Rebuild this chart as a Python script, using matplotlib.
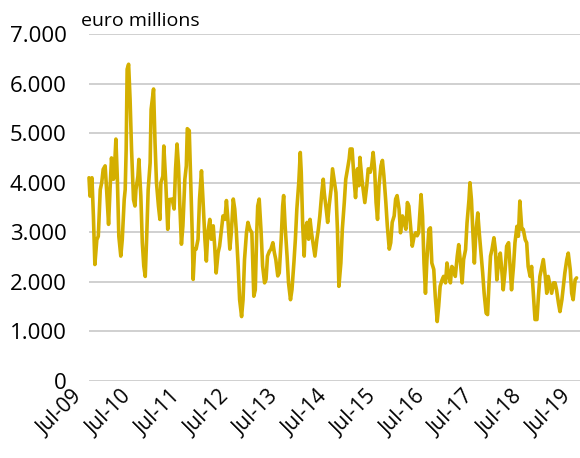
import matplotlib.pyplot as plt
from matplotlib.ticker import FuncFormatter
from matplotlib.transforms import ScaledTranslation

# daily series (decimal years, euro millions)
dates = [
    2009.50, 2009.52, 2009.56, 2009.59, 2009.62, 2009.66, 2009.69, 2009.73, 2009.76, 2009.79,
    2009.83, 2009.86, 2009.90, 2009.93, 2009.96, 2010.00, 2010.03, 2010.05, 2010.08, 2010.11,
    2010.15, 2010.18, 2010.22, 2010.24, 2010.26, 2010.28, 2010.31, 2010.34, 2010.37, 2010.41,
    2010.44, 2010.46, 2010.50, 2010.52, 2010.56, 2010.59, 2010.62, 2010.65, 2010.68, 2010.71,
    2010.75, 2010.77, 2010.82, 2010.85, 2010.88, 2010.92, 2010.95, 2010.97, 2011.01, 2011.03,
    2011.07, 2011.11, 2011.14,
    2011.20, 2011.24, 2011.27, 2011.30, 2011.33, 2011.36, 2011.39, 2011.42, 2011.46, 2011.49,
    2011.51, 2011.55, 2011.58, 2011.61, 2011.63, 2011.66, 2011.69, 2011.73, 2011.76, 2011.80,
    2011.83, 2011.87, 2011.90, 2011.93, 2011.97, 2012.00, 2012.04, 2012.07, 2012.10, 2012.14,
    2012.17, 2012.21, 2012.24, 2012.28, 2012.31, 2012.34, 2012.38, 2012.41, 2012.45, 2012.48,
    2012.51, 2012.55, 2012.58, 2012.62, 2012.65, 2012.68, 2012.72, 2012.75, 2012.79,
    2012.83, 2012.87, 2012.90, 2012.93, 2012.95, 2012.98, 2013.02, 2013.05, 2013.09, 2013.12,
    2013.15, 2013.19, 2013.22, 2013.26, 2013.29, 2013.32, 2013.36, 2013.39, 2013.43, 2013.46,
    2013.48, 2013.51, 2013.55, 2013.58, 2013.62, 2013.65, 2013.69, 2013.72, 2013.75, 2013.79,
    2013.82, 2013.84, 2013.87, 2013.90, 2013.92, 2013.96, 2013.99, 2014.02, 2014.05, 2014.09,
    2014.12, 2014.16, 2014.19, 2014.22, 2014.26, 2014.29, 2014.31, 2014.35, 2014.38, 2014.41,
    2014.45, 2014.48,
    2014.55, 2014.58, 2014.61, 2014.65, 2014.68, 2014.72, 2014.75, 2014.78, 2014.82, 2014.84,
    2014.88, 2014.92, 2014.95, 2014.99, 2015.02, 2015.04, 2015.08, 2015.11, 2015.14, 2015.18,
    2015.21, 2015.25, 2015.28, 2015.31, 2015.34, 2015.37, 2015.40, 2015.43, 2015.47, 2015.50,
    2015.53, 2015.57, 2015.60, 2015.64, 2015.67, 2015.70, 2015.74, 2015.77, 2015.80, 2015.84,
    2015.87, 2015.91, 2015.94, 2015.98, 2016.01, 2016.04, 2016.08, 2016.11, 2016.15, 2016.18,
    2016.21,
    2016.24, 2016.29, 2016.32, 2016.35, 2016.38, 2016.41, 2016.45, 2016.48, 2016.51, 2016.55,
    2016.58, 2016.62, 2016.65, 2016.68, 2016.72, 2016.75, 2016.79, 2016.82, 2016.86, 2016.89,
    2016.92, 2016.96, 2016.99, 2017.03, 2017.06, 2017.09, 2017.13, 2017.16, 2017.20, 2017.23,
    2017.27, 2017.29, 2017.32, 2017.35, 2017.38, 2017.41, 2017.45, 2017.48, 2017.52, 2017.55,
    2017.58, 2017.62, 2017.65, 2017.68, 2017.71, 2017.74, 2017.78, 2017.81, 2017.84, 2017.88,
    2017.91, 2017.94, 2017.97, 2018.01, 2018.04, 2018.08, 2018.11, 2018.14, 2018.18, 2018.21,
    2018.25, 2018.28, 2018.31, 2018.35, 2018.38, 2018.42, 2018.45, 2018.48, 2018.52, 2018.55,
    2018.59, 2018.62, 2018.66, 2018.69, 2018.72, 2018.76, 2018.79, 2018.83, 2018.86, 2018.89,
    2018.93, 2018.96, 2019.00, 2019.03, 2019.06, 2019.10, 2019.13, 2019.17, 2019.20, 2019.23,
    2019.27, 2019.30, 2019.34, 2019.37, 2019.40, 2019.44, 2019.47,
]

values = [
    4100, 3730, 4100, 3330, 2350, 2850, 2920, 3860, 4000, 4270,
    4340, 3860, 3160, 3860, 4500, 4070, 4470, 4880, 4070, 2920,
    2520, 2850, 3660, 3860, 4670, 6290, 6390, 5680, 4670, 3660,
    3530, 3860, 4130, 4470, 3730, 2790, 2320, 2110, 2920, 3860,
    4400, 5480, 5890, 4810, 4000, 3530, 3260, 4000, 4130, 4740,
    4000, 3060, 3660,
    3670, 3470, 4280, 4780, 4340, 3470, 2760, 3130, 4070, 4340,
    5090, 5050, 4010, 3000, 2050, 2660, 2660, 2860, 3670, 4240,
    3670, 2860, 2420, 2990, 3260, 2860, 3130, 2720, 2180, 2590,
    2720, 3060, 3330, 3260, 3640, 3260, 2660, 2990, 3670, 3470,
    3060, 2320, 1640, 1300, 1640, 2450, 2990, 3200, 3060,
    2990, 1710, 1840, 2990, 3530, 3670, 2990, 2320, 1980, 2050,
    2520, 2620, 2660, 2790, 2590, 2450, 2120, 2180, 2860, 3530,
    3740, 3130, 2520, 1980, 1640, 1840, 2390, 2860, 3470, 4010,
    4610, 4210, 3130, 2520, 3060, 3200, 2860, 3260, 2990, 2720,
    2520, 2860, 3060, 3330, 3800, 4070, 3800, 3470, 3200, 3530,
    3870, 4280,
    3800, 3060, 1910, 2380, 3060, 3600, 4070, 4240, 4480, 4680,
    4680, 4070, 3700, 4280, 3940, 4510, 4070, 3840, 3600, 3940,
    4280, 4210, 4340, 4610, 4280, 3600, 3260, 3940, 4340, 4450,
    4140, 3600, 3130, 2660, 2790, 3200, 3330, 3670, 3740, 3470,
    2990, 3330, 3200, 3060, 3600, 3530, 3060, 2720, 2930, 2990,
    2930,
    2990, 3760, 3330, 2380, 1770, 2450, 3060, 3090, 2380, 2250,
    1710, 1200, 1510, 1910, 2040, 2110, 1980, 2380, 2110, 1980,
    2310, 2250, 2110, 2520, 2750, 2450, 1980, 2450, 2650, 3190,
    3660, 4000, 3660, 2990, 2380, 2990, 3390, 2990, 2520, 2180,
    1770, 1370, 1340, 1980, 2520, 2650, 2890, 2650, 2040, 2450,
    2580, 2250, 1840, 2250, 2720, 2790, 2310, 1840, 2310, 2790,
    3120, 2920, 3630, 3060, 3060, 2850, 2790, 2310, 2110, 2310,
    1710, 1240, 1240, 1710, 2110, 2310, 2450, 2110, 1770, 2110,
    1910, 1770, 1980, 1980, 1840, 1570, 1400, 1640, 1910, 2180,
    2450, 2580, 2250, 1770, 1640, 2040, 2080,
]

tick_years = [2009.5 + i for i in range(11)]
tick_labels = ['Jul-%02d' % (9 + i) for i in range(11)]
y_ticks = list(range(0, 7001, 1000))

plt.rcParams['font.family'] = ['Open Sans', 'DejaVu Sans']

fig = plt.figure(figsize=(5.8, 4.58), dpi=100)
ax = fig.add_axes([89 / 580, 1 - 381 / 458, 1 - 89 / 580, 347 / 458])

ax.plot(dates, values, color='#D4AF00', lw=2.6, solid_joinstyle='round',
        solid_capstyle='round', clip_on=False, zorder=3)

ax.set_xlim(2009.5, 2019.54)
ax.set_ylim(0, 7000)
ax.set_yticks(y_ticks)
ax.yaxis.set_major_formatter(FuncFormatter(lambda v, p: f'{int(v):,}'.replace(',', '.')))
ax.set_xticks(tick_years)
ax.set_xticklabels([])

# rotated date labels, placed by hand so the last one stays inside the figure
offset = ScaledTranslation(-4 / 72, -12 / 72, fig.dpi_scale_trans)
for x, lab in zip(tick_years, tick_labels):
    ax.text(x, 0, lab, transform=ax.get_xaxis_transform() + offset,
            rotation=45, ha='right', va='baseline', rotation_mode='anchor',
            fontsize=15)

ax.tick_params(axis='y', length=0, labelsize=16, pad=16)
ax.tick_params(axis='x', length=0)
ax.grid(axis='y', color='#c8c8c8', lw=1.2)
ax.set_axisbelow(True)
for s in ax.spines.values():
    s.set_visible(False)

fig.text(81 / 580, 1 - 26 / 458, 'euro millions', fontsize=14, va='baseline')

fig.savefig('out.png', dpi=100)
